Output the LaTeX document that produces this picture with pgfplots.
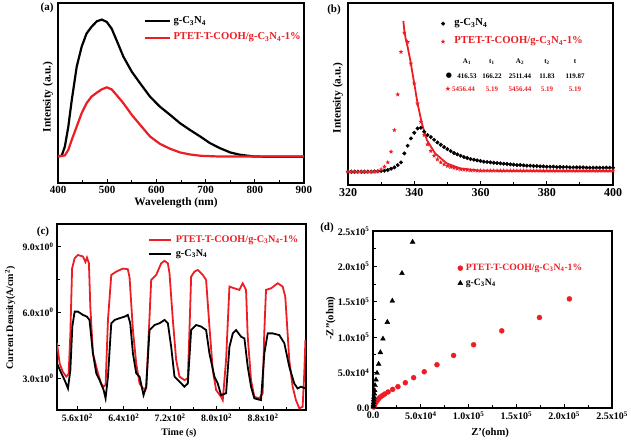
\documentclass[border=0pt]{standalone}
\usepackage{fontspec}
\setmainfont{Liberation Serif}
\newfontfamily\symfont{DejaVu Sans}
\usepackage{pgfplots}
\pgfplotsset{compat=1.18}
\definecolor{myred}{RGB}{236,30,36}
\newcommand{\gcn}{g-C\textsubscript{3}N\textsubscript{4}}
\newcommand{\ptet}{PTET-T-COOH/g-C\textsubscript{3}N\textsubscript{4}-1\%}
\newcommand{\fs}[1]{\fontsize{#1}{#1}\selectfont\bfseries}

% filled five-pointed star
\pgfdeclareplotmark{fstar}{%
  \pgfpathmoveto{\pgfqpointpolar{90}{\pgfplotmarksize}}%
  \pgfpathlineto{\pgfqpointpolar{126}{0.42\pgfplotmarksize}}%
  \pgfpathlineto{\pgfqpointpolar{162}{\pgfplotmarksize}}%
  \pgfpathlineto{\pgfqpointpolar{198}{0.42\pgfplotmarksize}}%
  \pgfpathlineto{\pgfqpointpolar{234}{\pgfplotmarksize}}%
  \pgfpathlineto{\pgfqpointpolar{270}{0.42\pgfplotmarksize}}%
  \pgfpathlineto{\pgfqpointpolar{306}{\pgfplotmarksize}}%
  \pgfpathlineto{\pgfqpointpolar{342}{0.42\pgfplotmarksize}}%
  \pgfpathlineto{\pgfqpointpolar{18}{\pgfplotmarksize}}%
  \pgfpathlineto{\pgfqpointpolar{54}{0.42\pgfplotmarksize}}%
  \pgfpathclose\pgfusepathqfill}

\pgfplotsset{
  panel/.style={
    scale only axis, anchor=south west,
    axis line style={line width=1.2pt},
    every tick/.style={line width=0.9pt, black},
    major tick length=4pt, minor tick length=2.5pt,
    tick align=inside, xtick pos=bottom, ytick pos=left,
    scaled ticks=false,
    /pgf/number format/assume math mode=true,
    legend cell align=left,
  },
}

\begin{document}
\begin{tikzpicture}[x=1pt,y=1pt]
\path[use as bounding box] (0,0) rectangle (631,443);

% ---------- (a) PL spectra
\begin{axis}[panel, at={(58pt,260pt)}, width=246pt, height=180pt,
  xmin=400, xmax=900, ymin=0, ymax=542,
  xtick={400,500,...,900}, minor xtick={450,550,...,850}, ytick=\empty,
  ticklabel style={font=\fs{11}},
  xlabel={Wavelength (nm)}, ylabel={Intensity (a.u.)},
  label style={font=\fs{11.3}},
  xlabel style={at={(rel axis cs:0.48,0)}, anchor=center, yshift=-20pt},
  ylabel style={at={(rel axis cs:-0.041,0.478)}, anchor=center},
  legend image code/.code={\draw[#1] (0pt,0pt) -- (25pt,0pt);},
  legend style={at={(0.350,0.935)}, anchor=north west, draw=none, fill=none,
    inner sep=0pt, row sep=4pt, column sep=1pt, font=\fs{10.6},
    nodes={inner sep=1pt, text height=7.5pt, text depth=3pt}},
]
\addplot[black, line width=2.2pt] coordinates {
  (400,80) (407.5,82) (414,110) (421,170) (428,250) (438,350) (448,410)
  (458,450) (468,470) (479,487) (489,492) (499,485) (509,465) (519,430)
  (533,380) (550,335) (567,300) (587,260) (607,230) (628,205) (648,180)
  (668,160) (689,140) (709,120) (729,105) (750,92) (770,85) (797,80)
  (824,79) (900,79)};
\addlegendentry{\gcn}
\addplot[myred, line width=2.2pt] coordinates {
  (400,80) (414,83) (421,100) (428,130) (438,170) (448,210) (458,240)
  (468,260) (479,272) (489,282) (499,288) (509,282) (519,265) (533,240)
  (550,205) (567,175) (587,140) (607,118) (628,103) (648,92) (668,86)
  (689,82) (723,80) (900,80)};
\addlegendentry{\textcolor{myred}{\ptet}}
\end{axis}

% ---------- (b) decay
\begin{axis}[panel, at={(348pt,258pt)}, width=265pt, height=182pt,
  xmin=320, xmax=400, ymin=0, ymax=547,
  xtick={320,340,...,400}, minor xtick={330,350,...,390}, ytick=\empty,
  ticklabel style={font=\fs{12}},
  ylabel={Intensity (a.u.)}, label style={font=\fs{11.3}},
  ylabel style={at={(rel axis cs:-0.038,0.478)}, anchor=center},
  legend style={at={(0.349,0.922)}, anchor=north west, draw=none, fill=none,
    inner sep=0pt, row sep=5.5pt, column sep=8pt, font=\fs{10.7},
    nodes={inner sep=1pt, text height=7.5pt, text depth=3pt}},
]
\addplot[only marks, mark=*, mark size=1.8pt, black] coordinates {
  (320,40) (321,40) (322,40) (323,40) (324,40) (325,40) (326,40) (327,40)
  (328,41) (329,41) (330,42) (331,43) (332,45) (333,49) (334,53) (335,60)
  (336,68) (337,95) (338,118) (339,140) (340,157) (341,170) (342,172)
  (343,160) (344,150) (345,144) (346,136) (347,128) (348,121) (349,114)
  (350,108) (351,102) (352,96) (353,92) (354,88) (355,84) (356,81) (357,78)
  (358,76) (359,74) (360,72) (361,70) (362,69) (363,68) (364,67) (365,66)
  (366,65) (367,64) (368,63) (369,62) (370,61) (371,60) (372,60) (373,59)
  (374,58) (375,58) (376,57) (377,57) (378,56) (379,56) (380,55) (381,55)
  (382,55) (383,54) (384,54) (385,54) (386,54) (387,53) (388,53) (389,53)
  (390,53) (391,53) (392,52) (393,52) (394,52) (395,52) (396,52) (397,52)
  (398,52) (399,52) (400,52)};
\addlegendentry{\gcn}
\addplot[only marks, mark=fstar, mark size=2.5pt, myred] coordinates {
  (320,40) (321,40) (322,40) (323,40) (324,40) (325,40) (326,40) (327,40)
  (328,40) (329,41) (330,47) (331,55) (332,68) (333,100) (334,165) (335,272)
  (336,400) (337,458) (338,430) (339,365) (340,305) (341,245) (342,190)
  (343,150) (344,122) (345,102) (346,88) (347,77) (348,68) (349,62) (350,57)
  (351,54) (352,51) (353,49) (354,47) (355,46) (356,45) (357,44) (358,44)
  (359,43) (360,43) (361,43) (362,43) (363,43) (364,43) (365,43) (366,43)
  (367,43) (368,43) (369,43) (370,43) (371,43) (372,43) (373,43) (374,43)
  (375,43) (376,43) (377,43) (378,43) (379,43) (380,43) (381,43) (382,43)
  (383,43) (384,43) (385,43) (386,43) (387,43) (388,43) (389,43) (390,43)
  (391,43) (392,43) (393,43) (394,43) (395,43) (396,43) (397,43) (398,43)
  (399,43) (400,43)};
\addlegendentry{\textcolor{myred}{\ptet}}
\addplot[myred, line width=1.8pt, forget plot] coordinates {
  (336.7,493) (337.0,465) (337.4,440) (338.0,415) (338.8,375) (340.0,305)
  (341.0,245) (342.3,185) (343.8,135) (346.3,95) (349.8,65) (353.8,50)
  (359.9,43) (370,42) (400,41)};
% fitting table
\begin{scope}[every node/.style={font=\fs{7}, inner sep=0pt}]
\node at (rel axis cs:0.449,0.676) {A\textsubscript{1}};
\node at (rel axis cs:0.543,0.676) {t\textsubscript{1}};
\node at (rel axis cs:0.649,0.676) {A\textsubscript{2}};
\node at (rel axis cs:0.751,0.676) {t\textsubscript{2}};
\node at (rel axis cs:0.857,0.676) {t};
\node at (rel axis cs:0.381,0.599) {\symfont ●};
\node at (rel axis cs:0.449,0.599) {416.53};
\node at (rel axis cs:0.543,0.599) {166.22};
\node at (rel axis cs:0.649,0.599) {2511.44};
\node at (rel axis cs:0.751,0.599) {11.83};
\node at (rel axis cs:0.857,0.599) {119.87};
\node[text=myred] at (rel axis cs:0.377,0.527) {\symfont ★};
\node[text=myred] at (rel axis cs:0.436,0.527) {5456.44};
\node[text=myred] at (rel axis cs:0.543,0.527) {5.19};
\node[text=myred] at (rel axis cs:0.649,0.527) {5456.44};
\node[text=myred] at (rel axis cs:0.751,0.527) {5.19};
\node[text=myred] at (rel axis cs:0.857,0.527) {5.19};
\end{scope}
\end{axis}

% ---------- (c) photocurrent
\begin{axis}[panel, at={(57pt,33pt)}, width=249pt, height=186pt,
  xmin=525, xmax=954, ymin=1.56, ymax=10.03,
  xtick={560,640,720,800,880}, minor xtick={600,680,760,840,920},
  xticklabels={5.6x10\textsuperscript{2},6.4x10\textsuperscript{2},7.2x10\textsuperscript{2},8.0x10\textsuperscript{2},8.8x10\textsuperscript{2}},
  ytick={3,6,9}, minor ytick={4.5,7.5},
  yticklabels={3.0x10\textsuperscript{0},6.0x10\textsuperscript{0},9.0x10\textsuperscript{0}},
  ticklabel style={font=\fs{9.8}},
  xlabel={Time (s)}, ylabel={Current Density(A/cm\textsuperscript{2})},
  label style={font=\fs{10}},
  xlabel style={at={(rel axis cs:0.49,0)}, anchor=center, yshift=-23pt},
  ylabel style={at={(rel axis cs:-0.188,0.495)}, anchor=center},
  legend image code/.code={\draw[#1] (0pt,0pt) -- (22pt,0pt);},
  legend style={at={(0.365,0.946)}, anchor=north west, draw=none, fill=none,
    inner sep=0pt, row sep=2pt, column sep=3pt, font=\fs{10.2},
    nodes={inner sep=1pt, text height=7pt, text depth=3pt}},
]
\addplot[myred, line width=1.8pt] coordinates {
  (525,4.6) (529.6,3.68) (535,3.3) (541,3.08) (545,3.2) (548,5.0) (551,8.0)
  (555.4,8.47) (561,8.62) (569.7,8.55) (574,8.3) (576.6,8.5) (580,8.24)
  (582.4,6.27) (586.9,4.14) (595.6,3.23) (601,2.77) (605.3,2.62) (608.7,2.7)
  (612.8,5.66) (618.5,7.71) (627,7.86) (638.6,8.0) (647,7.97) (650,7.6)
  (655.8,5.2) (661.5,3.68) (667.2,2.77) (673,2.54) (678.7,2.54) (683,5.0)
  (687.3,7.48) (695.9,7.71) (704.5,8.24) (710.2,8.35) (716,8.24) (718.8,7.79)
  (724.6,5.66) (730.3,3.84) (736,3.08) (744.6,2.92) (750.4,3.0) (753,5.0)
  (756.1,7.63) (761.8,7.86) (767.6,7.94) (776.2,7.71) (781.9,7.48)
  (787.6,5.36) (793.4,3.38) (799.1,2.47) (807.7,2.16) (810.6,2.01)
  (816.3,3.84) (822.1,7.18) (830.6,7.1) (839.2,7.03) (845,7.33) (850.7,7.03)
  (853.6,4.9) (859.3,2.92) (865,2.16) (873.6,2.09) (879.4,2.32) (882,5.0)
  (885.1,7.03) (893.7,7.1) (905.2,7.33) (913.8,7.18) (918.3,6.72)
  (925.2,3.84) (931,2.62) (936.7,2.01) (942.5,1.63) (948.2,1.71) (951,3.23)
  (953,4.75)};
\addlegendentry{\textcolor{myred}{\ptet}}
\addplot[black, line width=1.8pt] coordinates {
  (525,3.68) (532.5,3.23) (538.2,2.92) (543.9,2.54) (548,3.38) (551.4,5.36)
  (555.4,6.04) (561,6.04) (569.7,5.89) (576.6,5.81) (581,5.66) (586.9,4.14)
  (592.7,3.23) (598.4,2.92) (605.3,2.47) (608.7,2.09) (612.8,3.08)
  (618.5,5.51) (624.2,5.66) (632.8,5.74) (641.4,5.81) (647,5.89) (651.2,5.51)
  (655.8,4.14) (661.5,3.23) (667.2,3.08) (674.1,2.24) (678.7,2.62)
  (684.4,5.2) (693,5.43) (701.6,5.51) (710.2,5.66) (716,5.51) (721.7,4.44)
  (727.4,3.08) (736,2.85) (744.6,2.62) (750.4,2.77) (756.1,5.2) (764.7,5.43)
  (773.3,5.36) (781.9,5.2) (787.6,4.14) (796.2,3.08) (801.9,2.77)
  (807.7,2.24) (816.3,2.32) (822.1,4.44) (827.9,5.05) (833.5,5.2) (842.1,4.9)
  (847.9,4.82) (853.6,3.53) (859.3,2.62) (865,2.09) (876.5,2.01) (882.2,4.14)
  (888,5.05) (896.6,5.05) (908,4.97) (916.7,4.6) (925.2,3.53) (933.8,2.77)
  (939.6,2.54) (945.3,2.62) (953,2.54)};
\addlegendentry{\gcn}
\end{axis}

% ---------- (d) EIS Nyquist
\begin{axis}[panel, at={(373pt,35pt)}, width=239pt, height=177pt,
  xmin=0, xmax=250000, ymin=0, ymax=250000,
  xtick={0,50000,...,250000}, ytick={0,50000,...,250000},
  minor tick num=1,
  xticklabels={0.0,5.0x10\textsuperscript{4},1.0x10\textsuperscript{5},1.5x10\textsuperscript{5},2.0x10\textsuperscript{5},2.5x10\textsuperscript{5}},
  yticklabels={0.0,5.0x10\textsuperscript{4},1.0x10\textsuperscript{5},1.5x10\textsuperscript{5},2.0x10\textsuperscript{5},2.5x10\textsuperscript{5}},
  ticklabel style={font=\fs{10}},
  xlabel={Z'(ohm)}, ylabel={-Z''(ohm)},
  label style={font=\fs{10.6}},
  xlabel style={at={(rel axis cs:0.49,0)}, anchor=center, yshift=-25pt},
  ylabel style={at={(rel axis cs:-0.176,0.508)}, anchor=center},
  legend style={at={(0.354,0.825)}, anchor=north west, draw=none, fill=none,
    inner sep=0pt, row sep=3pt, column sep=2pt, font=\fs{9.7},
    nodes={inner sep=1pt, text height=7pt, text depth=3pt}},
]
\addplot[only marks, mark=*, mark size=2.5pt, myred] coordinates {
  (205400,154100) (174100,127800) (134700,109000) (105200,89300)
  (84300,74200) (66900,61100) (53600,51200) (42500,42800) (33800,35700)
  (26100,30100) (20500,26300) (15700,22600) (12200,19700) (9700,17400)
  (7700,15500) (5900,13200) (4500,10800) (3100,8000) (2100,5600)
  (1400,3300) (700,1400)};
\addlegendentry{\textcolor{myred}{\ptet}}
\addplot[only marks, mark=triangle*, mark size=2.8pt, black] coordinates {
  (41400,234500) (30300,190300) (20200,151300) (15000,121200) (10400,97700)
  (7700,78500) (5900,62000) (4200,49300) (3100,39900) (2100,32000)
  (1700,24900) (1400,20200) (1000,15500) (700,11700) (700,8000) (300,4700)
  (300,1900)};
\addlegendentry{\gcn}
\end{axis}

% panel letters
\node[font=\fs{11}] at (47,435) {(a)};
\node[font=\fs{11}] at (334,433) {(b)};
\node[font=\fs{11}] at (43,211) {(c)};
\node[font=\fs{11}] at (327,215) {(d)};
\end{tikzpicture}
\end{document}
